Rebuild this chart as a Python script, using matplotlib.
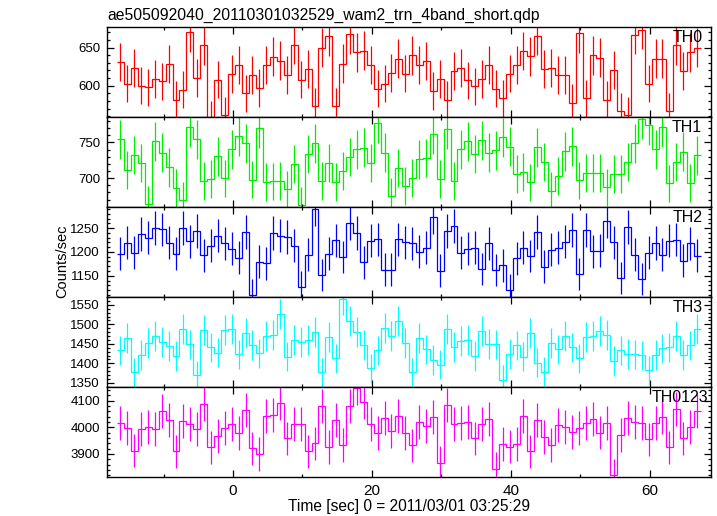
import numpy as np
import matplotlib
matplotlib.use("Agg")
import matplotlib.pyplot as plt
from matplotlib.ticker import MultipleLocator, FormatStrFormatter
import matplotlib.transforms as mtransforms

plt.rcParams['font.family'] = ['Liberation Sans', 'DejaVu Sans']

title = "ae505092040_20110301032529_wam2_trn_4band_short.qdp"
xlabel = "Time [sec] 0 = 2011/03/01 03:25:29"
ylabel = "Counts/sec"

t_start = -16.2   # centre of first 1-s bin
bin_width = 1.0

band_names = ["TH0", "TH1", "TH2", "TH3", "TH0123"]
band_colors = ["#ff0000", "#00ee00", "#0000ff", "#00ffff", "#ff00ff"]

th0 = [631, 602.6, 623, 600, 598, 609, 605.7, 628, 581.5, 595, 670.5, 610, 653, 556,
       608, 561, 615, 627, 590, 614.5, 597, 627.6, 638, 633, 613.6, 654, 608, 622,
       573.6, 650, 665, 573.6, 629, 668, 644, 646, 627.6, 596, 602.6, 617, 635.5,
       616, 640, 626.7, 632, 593, 609, 581.5, 619, 623, 607, 599, 609, 626.7, 596,
       583.7, 616, 626.7, 645.5, 638.6, 665.8, 622, 623, 614.5, 613.6, 578, 669,
       583.7, 640, 637, 581.5, 621, 566.6, 562, 667, 673.7, 602.6, 635.5, 635.5,
       566.6, 653, 619, 644, 650]

th1 = [754.2, 711.2, 732.2, 721, 663.2, 751.8, 735.4, 715, 686.4, 669.2, 771, 754.2,
       696.2, 698.6, 730.4, 699.6, 740.6, 758.4, 748.6, 698, 769.6, 694.8, 695.4,
       696.2, 684.2, 719.6, 662.2, 733.6, 748.6, 695.8, 721, 694.4, 709.4, 729.8,
       740.6, 742.4, 721.4, 777.5, 735.4, 674.8, 713.6,
       688.8, 700, 726.2, 728.4, 761.6, 698.6, 769, 696.2, 740.2, 751.4, 733.6,
       752.8, 735.4, 738.8, 757, 743.8, 706, 708.8, 694, 743.4, 722.8, 681.8, 702.8,
       737.4, 744.4, 696.8, 707, 707, 707, 687, 705.2, 706, 722.8, 748.6, 782.2,
       774.2, 740.2, 771, 692.6, 722.8, 736.8, 693.4, 731.8]

th2 = [1196.5, 1219.8, 1198.6, 1238.2, 1229.7, 1250, 1247.2, 1219.8, 1196.5, 1250.8,
       1222.5, 1243.7, 1193, 1213.4, 1234, 1218.3, 1206.4, 1188, 1241.5, 1110.5,
       1179.6, 1176, 1239.4, 1234.5, 1231, 1213.4, 1126, 1194.4, 1291, 1151.5,
       1196.5, 1224.6, 1189.5, 1260.6, 1239.4, 1178, 1223.3, 1226.7, 1162.7, 1162.7,
       1226.7,
       1220.4, 1218.3, 1200, 1208.5, 1274, 1160.6, 1243.7, 1254.2, 1198, 1206.4,
       1208.5, 1164.2, 1218.3, 1162, 1171.8, 1120.4, 1186.6, 1208.5, 1191.6, 1241.5,
       1169, 1204.3, 1208.5, 1221.2, 1246.6, 1153.5, 1246.6, 1201.4, 1202.8, 1264.2,
       1220.4, 1145, 1252, 1194.4, 1143, 1198, 1219, 1194.4, 1224, 1225.5, 1181.7,
       1218.3, 1192.3]

th3 = [1433.3, 1464, 1376.9, 1421.3, 1452, 1469.2, 1454.6, 1444.4, 1418.7, 1488.7,
       1448.7, 1369.2, 1484.6, 1441, 1427.2, 1486.2, 1488.7, 1423, 1476.9, 1447,
       1425.6, 1469.2, 1472.6, 1526.4, 1417, 1460.5, 1454.6, 1459, 1480.3, 1376.9,
       1468.3, 1412.8, 1564, 1507.7, 1480.3, 1447, 1387, 1433.3, 1491.3, 1469.2,
       1509.3,
       1452, 1377.7, 1465.7, 1436, 1408.5, 1396.4, 1488, 1442.6, 1456.4, 1459.8,
       1418.7, 1482, 1449.5, 1448.7, 1358.2, 1423.9, 1446.2, 1417, 1478.5, 1401.5,
       1378.5, 1451.3, 1436, 1469.2, 1441, 1412.8, 1466.7, 1470, 1483.6, 1473.3,
       1406, 1433.3, 1423.9, 1423, 1420.5, 1382.8, 1421.3, 1438.5, 1441, 1469.2,
       1421.3, 1446.2, 1488.7]

th0123 = [4015, 3998.5, 3912.4, 3992.4, 4002.4, 3992.4, 4060, 4027.3, 3910, 4022.3,
          4011, 3992.4, 4086, 3925, 3967.4, 3996.2, 4011, 3978.7, 4063.7, 3921.2,
          3900, 4041, 4045, 4090, 3958.7, 4012.4, 4011, 3910, 3940, 4079.7, 3926.2,
          4026, 3933.7, 4079.7, 4147, 4095, 4012.4, 3978.7, 4033.7, 3985, 4042.4,
          3977.5, 3932.5, 4021, 4006, 4037.4, 3866, 4084.8, 4013.5, 4017.3, 4021,
          3958.7, 4012.4, 4030, 3843.8, 3937.5, 3927.3, 3937.5, 4042.4, 3910, 4028.5,
          3963.7, 3933.7, 4008.6, 4002.4, 3981.2, 3996.2, 4015, 4031, 3980, 4017.3,
          3821.3, 3971.2, 4033.7, 4021, 4015, 3955, 4015, 4037.4, 3925, 4069.7,
          3958.7, 4000, 4062.3]

series = [th0, th1, th2, th3, th0123]
ylims = [(559, 677), (660, 786), (1106, 1295), (1340, 1571), (3815, 4152)]
y_major = [50, 50, 50, 50, 100]
y_minor = [10, 10, 10, 10, 20]
label_right_px = [8, 9, 8, 8, 3]
xlim = (-18.13, 68.78)

W, H = 717, 516
fig = plt.figure(figsize=(W / 100, H / 100), dpi=100)
left_px, right_px = 107, 711
tops = [27, 116.7, 206.7, 296.7, 386.7]
panel_h = 90.0

axes = []
for i, (vals, col, name) in enumerate(zip(series, band_colors, band_names)):
    top = tops[i]
    ax = fig.add_axes([left_px / W, 1 - (top + panel_h) / H,
                       (right_px - left_px) / W, panel_h / H])
    vals = np.asarray(vals, dtype=float)
    n = len(vals)
    centers = t_start + bin_width * np.arange(n)
    edges = np.concatenate([centers - bin_width / 2, [centers[-1] + bin_width / 2]])
    err = np.sqrt(vals)
    ax.errorbar(centers, vals, yerr=err, fmt='none', ecolor=col, elinewidth=0.9,
                capsize=0)
    ax.stairs(vals, edges, baseline=None, color=col, linewidth=0.9)
    ax.set_xlim(*xlim)
    ax.set_ylim(*ylims[i])
    ax.xaxis.set_major_locator(MultipleLocator(20))
    ax.xaxis.set_minor_locator(MultipleLocator(10))
    ax.yaxis.set_major_locator(MultipleLocator(y_major[i]))
    ax.yaxis.set_minor_locator(MultipleLocator(y_minor[i]))
    ax.yaxis.set_major_formatter(FormatStrFormatter('%d'))
    ax.tick_params(which='both', direction='in', top=True, right=True,
                   width=0.9, colors='black')
    ax.tick_params(axis='x', labelsize=11, pad=5)
    ax.tick_params(axis='y', labelsize=9.5, pad=5)
    ax.tick_params(which='major', length=5)
    ax.tick_params(which='minor', length=2.5)
    for sp in ax.spines.values():
        sp.set_linewidth(1.0)
    if i < 4:
        ax.tick_params(axis='x', labelbottom=False)
    off = mtransforms.ScaledTranslation(-label_right_px[i] / 100, -3 / 100,
                                        fig.dpi_scale_trans)
    ax.text(1, 1, name, transform=ax.transAxes + off, ha='right', va='top',
            fontsize=11.5)
    axes.append(ax)

fig.text(left_px / W, 1 - 19.5 / H, title, ha='left', va='baseline', fontsize=11.3)
fig.text(409 / W, 1 - 511 / H, xlabel, ha='center', va='baseline', fontsize=11.2)
fig.text(62 / W, 1 - 261 / H, ylabel, ha='center', va='center', rotation=90,
         fontsize=10.5)

fig.savefig("out.png", dpi=100)
